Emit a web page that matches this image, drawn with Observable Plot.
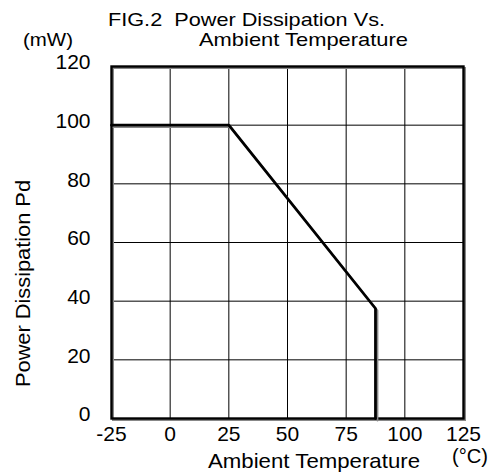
<!DOCTYPE html>
<html>
<head>
<meta charset="utf-8">
<script src="https://cdn.jsdelivr.net/npm/d3@7"></script>
<script src="https://cdn.jsdelivr.net/npm/@observablehq/plot@0.6"></script>
<style>
  html, body { margin: 0; padding: 0; background: #fff; }
  svg text { font-family: "Liberation Sans", Arial, sans-serif; }
</style>
</head>
<body>
<div id="chart"></div>
<script>
// Derating curve: ambient temperature (°C) vs power dissipation (mW)
const temps = [-25, 25, 87.5, 87.5];
const power = [100, 100, 37.5, 0];
const xTicks = [-25, 0, 25, 50, 75, 100, 125];
const yTicks = [0, 20, 40, 60, 80, 100, 120];
const titleLines = ["FIG.2  Power Dissipation Vs.", "Ambient Temperature"];
const yUnit = "(mW)";
const xLabel = "Ambient Temperature";
const xUnit = "(°C)";
const yLabel = "Power Dissipation Pd";

const data = temps.map((t, i) => ({t, p: power[i]}));

const W = 493, H = 476;
const mL = 111, mR = 30, mT = 66, mB = 58;

const chart = Plot.plot({
  width: W,
  height: H,
  marginLeft: mL,
  marginRight: mR,
  marginTop: mT,
  marginBottom: mB,
  style: {fontFamily: "Liberation Sans, Arial, sans-serif", fontSize: "21px", color: "#000", background: "#fff"},
  x: {domain: [-25, 125], ticks: xTicks, label: null},
  y: {domain: [0, 120], ticks: yTicks, label: null},
  marks: [
    Plot.gridX(xTicks, {stroke: "#000", strokeOpacity: 1, strokeWidth: 1}),
    Plot.gridY(yTicks, {stroke: "#000", strokeOpacity: 1, strokeWidth: 1}),
    Plot.frame({stroke: "#888", strokeWidth: 2, dx: 1.5, dy: 1.5}),
    Plot.frame({stroke: "#000", strokeWidth: 2.4}),
    Plot.line(data, {x: "t", y: "p", stroke: "#888", strokeWidth: 1.8, dx: 2, dy: 2}),
    Plot.line(data, {x: "t", y: "p", stroke: "#000", strokeWidth: 2.8}),
    Plot.axisX(xTicks, {tickSize: 0, tickPadding: 8, fontSize: 21, tickFormat: d => String(d)}),
    Plot.axisY(yTicks, {tickSize: 0, tickPadding: 21, fontSize: 21, dy: -4, tickFormat: d => String(d)})
  ]
});

document.getElementById("chart").appendChild(chart);

const svg = d3.select(chart);
const addText = (str, x, y, size, len, transform) => {
  const t = svg.append("text")
    .attr("x", x).attr("y", y)
    .attr("text-anchor", "start")
    .attr("font-size", size)
    .attr("fill", "#000")
    .attr("textLength", len)
    .attr("lengthAdjust", "spacingAndGlyphs")
    .text(str);
  if (transform) t.attr("transform", transform);
  return t;
};
addText(titleLines[0], 108, 26, 19, 277);
addText(titleLines[1], 199, 45.5, 19, 209);
addText(yUnit, 23, 45.5, 19, 50);
addText(xLabel, 208, 468, 21, 212);
addText(xUnit, 452, 463, 21, 36);
addText(yLabel, 0, 0, 21, 207, "translate(30,387) rotate(-90)");
</script>
</body>
</html>
